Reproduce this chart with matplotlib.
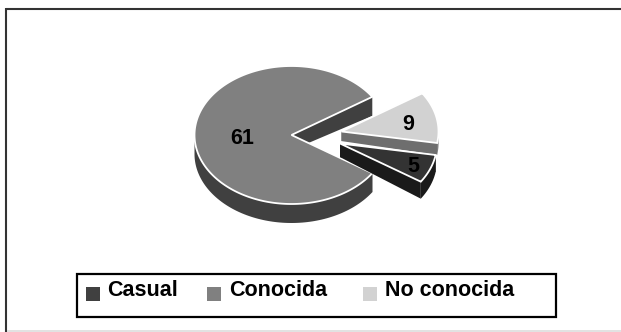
import matplotlib
matplotlib.use('Agg')
import matplotlib.pyplot as plt
from matplotlib.patches import Polygon, Rectangle
import numpy as np

categories = ['Casual', 'Conocida', 'No conocida']
values = [5, 61, 9]
shown_labels = {'Conocida': '61', 'No conocida': '9', 'Casual': '5'}

top_colors = {'Casual': '#333333', 'Conocida': '#808080', 'No conocida': '#d2d2d2'}
side_colors = {'Casual': '#1a1a1a', 'Conocida': '#404040', 'No conocida': '#6e6e6e'}
# pie centres in pixels, the two small slices are pulled out to the right
centers = {'Casual': (340, 143.5), 'Conocida': (291.5, 135), 'No conocida': (341.5, 131.5)}
label_pos = {'Conocida': (242, 138), 'No conocida': (408, 124), 'Casual': (413, 167)}
depths = {'Casual': 17, 'Conocida': 19, 'No conocida': 12}

rx = 97
ry = 69

plt.rcParams['font.family'] = ['Liberation Sans', 'DejaVu Sans']
fig = plt.figure(figsize=(6.21, 3.32), dpi=100)
ax = fig.add_axes([0, 0, 1, 1])
ax.set_xlim(0, 621)
ax.set_ylim(332, 0)
ax.axis('off')

# wedge angles come from the values, Conocida faces left
total = sum(values)
sweep = {c: v / total * 360 for c, v in zip(categories, values)}
a0 = 180 + sweep['Conocida'] / 2
angles = {'Conocida': (a0 - sweep['Conocida'], a0),
          'Casual': (a0, a0 + sweep['Casual']),
          'No conocida': (a0 + sweep['Casual'], a0 + sweep['Casual'] + sweep['No conocida'])}


def rim(c, a):
    cx, cy = centers[c]
    a = np.radians(a)
    return np.column_stack([cx + rx * np.cos(a), cy - ry * np.sin(a)])


def draw_slice(c):
    cx, cy = centers[c]
    a1, a2 = angles[c]
    side = side_colors[c]
    depth = depths[c]
    # cut walls
    for a in (a1, a2):
        p = rim(c, np.array([a]))[0]
        wall = [(cx, cy), p, (p[0], p[1] + depth), (cx, cy + depth * 0.8)]
        ax.add_patch(Polygon(wall, closed=True, fc=side, ec='none'))
    # outer skin, only the part facing down
    t = np.linspace(a1, a2, 200)
    t = t[(np.sin(np.radians(t)) <= 0.02)]
    if len(t):
        up = rim(c, t)
        low = up + [0, depth]
        ax.add_patch(Polygon(np.vstack([up, low[::-1]]), closed=True, fc=side, ec='none'))
    # top face
    t = np.linspace(a1, a2, 300)
    ax.add_patch(Polygon(np.vstack([[cx, cy], rim(c, t)]), closed=True,
                         fc=top_colors[c], ec='white', lw=1.3, joinstyle='miter'))


# back to front
for c in ['Conocida', 'No conocida', 'Casual']:
    draw_slice(c)

for c in categories:
    x, y = label_pos[c]
    ax.text(x, y, shown_labels[c], fontsize=15.5, fontweight='bold', ha='center', va='center', color='black')

# outer frame, open on the right, and legend box
ax.plot([6, 621], [8.5, 8.5], color='#333333', lw=1.5, solid_capstyle='butt')
ax.plot([6, 6], [8, 332], color='#333333', lw=1.5, solid_capstyle='butt')
ax.plot([7, 621], [331, 331], color='#dddddd', lw=1.2, solid_capstyle='butt')
ax.add_patch(Rectangle((76.5, 273.5), 479, 43, fc='white', ec='black', lw=1.6))

swatch_x = [86, 207, 363]
text_x = [107, 229, 385]
for c, sx, tx in zip(categories, swatch_x, text_x):
    ax.add_patch(Rectangle((sx, 287), 14, 14, fc=side_colors['Conocida'] if c == 'Casual' else top_colors[c], ec='none'))
    ax.text(tx, 290, c, fontsize=15.5, fontweight='bold', ha='left', va='center', color='black')

fig.savefig('out.png', dpi=100)
